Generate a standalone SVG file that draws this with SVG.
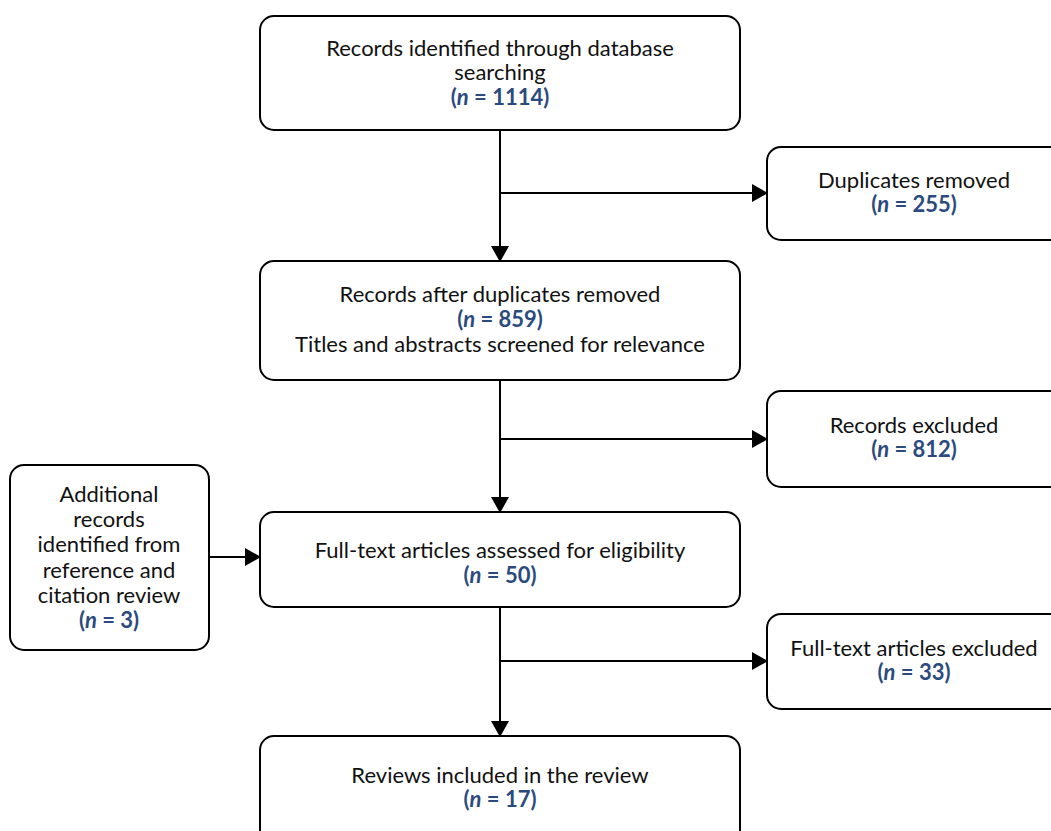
<svg xmlns="http://www.w3.org/2000/svg" width="1051" height="831" viewBox="0 0 1051 831">
<defs>
<style>
.box{fill:#fff;stroke:#000;stroke-width:2}
.ln{fill:none;stroke:#000;stroke-width:2}
text{font-family:Lato,"Noto Sans",sans-serif;font-size:22px;fill:#111;text-anchor:middle}
.n{font-weight:bold;fill:#2b4a7e}
.i{font-style:italic}
</style>
<marker id="ah" markerWidth="16" markerHeight="18" refX="15" refY="9" orient="auto" markerUnits="userSpaceOnUse">
<path d="M0,0 L16,9 L0,18 Z" fill="#000"/>
</marker>
</defs>
<rect width="1051" height="831" fill="#fff"/>
<g id="connectors">
<path class="ln" d="M500,130 V261" marker-end="url(#ah)"/>
<path class="ln" d="M500,193 H767" marker-end="url(#ah)"/>
<path class="ln" d="M500,380 V512" marker-end="url(#ah)"/>
<path class="ln" d="M500,439 H767" marker-end="url(#ah)"/>
<path class="ln" d="M500,607 V736" marker-end="url(#ah)"/>
<path class="ln" d="M500,661 H767" marker-end="url(#ah)"/>
<path class="ln" d="M209,557 H260" marker-end="url(#ah)"/>
</g>
<g id="n1">
<rect class="box" x="260" y="16" width="480" height="114" rx="14"/>
<text x="500" y="56">Records identified through database</text>
<text x="500" y="80">searching</text>
<text x="500" y="105" class="n">(<tspan class="i">n</tspan> = 1114)</text>
</g>
<g id="n2">
<rect class="box" x="767" y="147" width="300" height="93" rx="14"/>
<text x="914" y="188">Duplicates removed</text>
<text x="914" y="212" class="n">(<tspan class="i">n</tspan> = 255)</text>
</g>
<g id="n3">
<rect class="box" x="260" y="261" width="480" height="119" rx="14"/>
<text x="500" y="302">Records after duplicates removed</text>
<text x="500" y="327" class="n">(<tspan class="i">n</tspan> = 859)</text>
<text x="500" y="352">Titles and abstracts screened for relevance</text>
</g>
<g id="n4">
<rect class="box" x="767" y="391" width="300" height="96" rx="14"/>
<text x="914" y="433">Records excluded</text>
<text x="914" y="457" class="n">(<tspan class="i">n</tspan> = 812)</text>
</g>
<g id="n5">
<rect class="box" x="10" y="465" width="199" height="185" rx="14"/>
<text x="109" y="502">Additional</text>
<text x="109" y="527">records</text>
<text x="109" y="552">identified from</text>
<text x="109" y="578">reference and</text>
<text x="109" y="603">citation review</text>
<text x="109" y="628" class="n">(<tspan class="i">n</tspan> = 3)</text>
</g>
<g id="n6">
<rect class="box" x="260" y="512" width="480" height="95" rx="14"/>
<text x="500" y="558">Full-text articles assessed for eligibility</text>
<text x="500" y="583" class="n">(<tspan class="i">n</tspan> = 50)</text>
</g>
<g id="n7">
<rect class="box" x="767" y="614" width="300" height="95" rx="14"/>
<text x="914" y="656">Full-text articles excluded</text>
<text x="914" y="680" class="n">(<tspan class="i">n</tspan> = 33)</text>
</g>
<g id="n8">
<rect class="box" x="260" y="736" width="480" height="110" rx="14"/>
<text x="500" y="783">Reviews included in the review</text>
<text x="500" y="807" class="n">(<tspan class="i">n</tspan> = 17)</text>
</g>
</svg>
